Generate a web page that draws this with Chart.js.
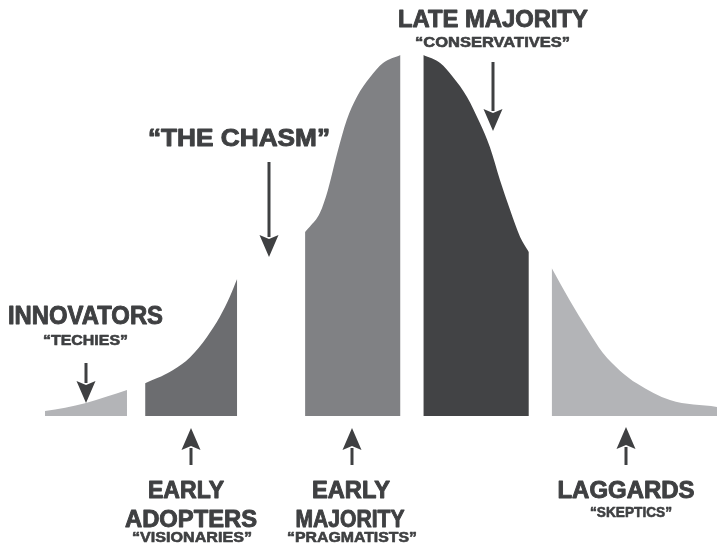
<!DOCTYPE html>
<html>
<head>
<meta charset="utf-8">
<script src="https://cdn.jsdelivr.net/npm/chart.js@4"></script>
<style>
  html, body { margin: 0; padding: 0; background: #fff; }
  #chasm { display: block; }
</style>
</head>
<body>
<canvas id="chasm" width="717" height="548"></canvas>
<script>
// x = position along the adoption timeline (0-100), y = share of the peak (0-100)
const innovatorsX   = [0, 3.0, 6.1, 9.1, 12.2];
const innovatorsY   = [1.4, 2.3, 3.6, 5.3, 7.2];
const adoptersX     = [14.9, 16.7, 19.0, 21.6, 24.1, 26.0, 27.5, 28.6];
const adoptersY     = [9.1, 10.5, 12.7, 16.3, 21.9, 27.4, 33.0, 38.0];
const earlyMajX     = [38.7, 39.4, 40.9, 42.1, 43.5, 44.9, 46.4, 48.4, 50.3, 52.9];
const earlyMajY     = [51.0, 52.4, 56.2, 62.6, 72.9, 82.0, 88.4, 93.9, 97.8, 100];
const lateMajX      = [56.3, 58.8, 60.7, 62.8, 64.7, 66.2, 67.7, 69.2, 70.7, 72.0];
const lateMajY      = [100, 97.8, 93.9, 88.4, 81.2, 74.5, 65.4, 57.1, 49.6, 45.4];
const laggardsX     = [75.4, 78.1, 80.7, 83.0, 85.6, 88.1, 93.0, 100];
const laggardsY     = [41, 32, 24, 17.5, 12.5, 9, 4.4, 2.5];

const segments = [
  { name: 'Innovators',     xs: innovatorsX, ys: innovatorsY, color: '#b3b4b7' },
  { name: 'Early Adopters', xs: adoptersX,   ys: adoptersY,   color: '#6c6d70' },
  { name: 'Early Majority', xs: earlyMajX,   ys: earlyMajY,   color: '#808184' },
  { name: 'Late Majority',  xs: lateMajX,    ys: lateMajY,    color: '#424345' },
  { name: 'Laggards',       xs: laggardsX,   ys: laggardsY,   color: '#b3b4b7' }
];

const ink = '#3f4042';
const font = '"Liberation Sans", Arial, Helvetica, sans-serif';

// text: [string, centre x, baseline y, font size, target width]
const labels = [
  ['INNOVATORS', 85.5, 324, 25, 155],
  ['\u201CTECHIES\u201D', 85.5, 345, 15, 85],
  ['\u201CTHE CHASM\u201D', 239, 146, 23, 182],
  ['LATE MAJORITY', 493, 27, 24, 190],
  ['\u201CCONSERVATIVES\u201D', 492.5, 47, 15, 155],
  ['EARLY', 186, 498, 23, 76],
  ['ADOPTERS', 191, 527, 23, 132],
  ['\u201CVISIONARIES\u201D', 192, 542, 15, 120],
  ['EARLY', 351, 498, 23, 78],
  ['MAJORITY', 350, 527, 23, 109],
  ['\u201CPRAGMATISTS\u201D', 352, 542, 15, 130],
  ['LAGGARDS', 626, 498, 23, 137],
  ['\u201CSKEPTICS\u201D', 631, 517, 15, 82]
];

// arrows: [x, tail y, tip y]
const arrows = [
  [86, 363, 403],
  [269, 162, 257],
  [493, 62, 131],
  [191, 465, 428],
  [352, 465, 428],
  [626, 465, 427]
];

const annotations = {
  id: 'annotations',
  afterDraw(chart) {
    const ctx = chart.ctx;
    ctx.save();
    ctx.fillStyle = ink;
    ctx.strokeStyle = ink;
    ctx.textAlign = 'center';
    ctx.textBaseline = 'alphabetic';
    ctx.lineJoin = 'round';
    labels.forEach(([str, cx, by, size, w]) => {
      ctx.font = 'bold ' + size + 'px ' + font;
      const m = ctx.measureText(str).width;
      ctx.save();
      ctx.translate(cx, by);
      ctx.scale(w / m, 1);
      ctx.lineWidth = size > 20 ? 0.9 : 0.6;
      ctx.fillText(str, 0, 0);
      ctx.strokeText(str, 0, 0);
      ctx.restore();
    });
    arrows.forEach(([x, tail, tip]) => {
      const dir = tip > tail ? 1 : -1;
      const headLen = 22, headHalf = 9.5;
      const base = tip - dir * headLen;
      ctx.lineWidth = 3;
      ctx.beginPath();
      ctx.moveTo(x, tail);
      ctx.lineTo(x, base + dir * 2);
      ctx.stroke();
      ctx.beginPath();
      ctx.moveTo(x, tip);
      ctx.lineTo(x - headHalf, base);
      ctx.lineTo(x, base + dir * 4);
      ctx.lineTo(x + headHalf, base);
      ctx.closePath();
      ctx.fill();
    });
    ctx.restore();
  }
};

new Chart(document.getElementById('chasm'), {
  type: 'line',
  data: {
    datasets: segments.map(s => ({
      label: s.name,
      data: s.xs.map((x, i) => ({ x: x, y: s.ys[i] })),
      backgroundColor: s.color,
      borderColor: s.color,
      borderWidth: 0,
      pointRadius: 0,
      fill: 'origin',
      cubicInterpolationMode: 'monotone'
    }))
  },
  options: {
    responsive: false,
    animation: false,
    layout: { padding: { left: 45, right: 0, top: 55, bottom: 132 } },
    scales: {
      x: { type: 'linear', min: 0, max: 100, display: false },
      y: { min: 0, max: 100, display: false }
    },
    plugins: { legend: { display: false }, tooltip: { enabled: false } }
  },
  plugins: [annotations]
});
</script>
</body>
</html>
